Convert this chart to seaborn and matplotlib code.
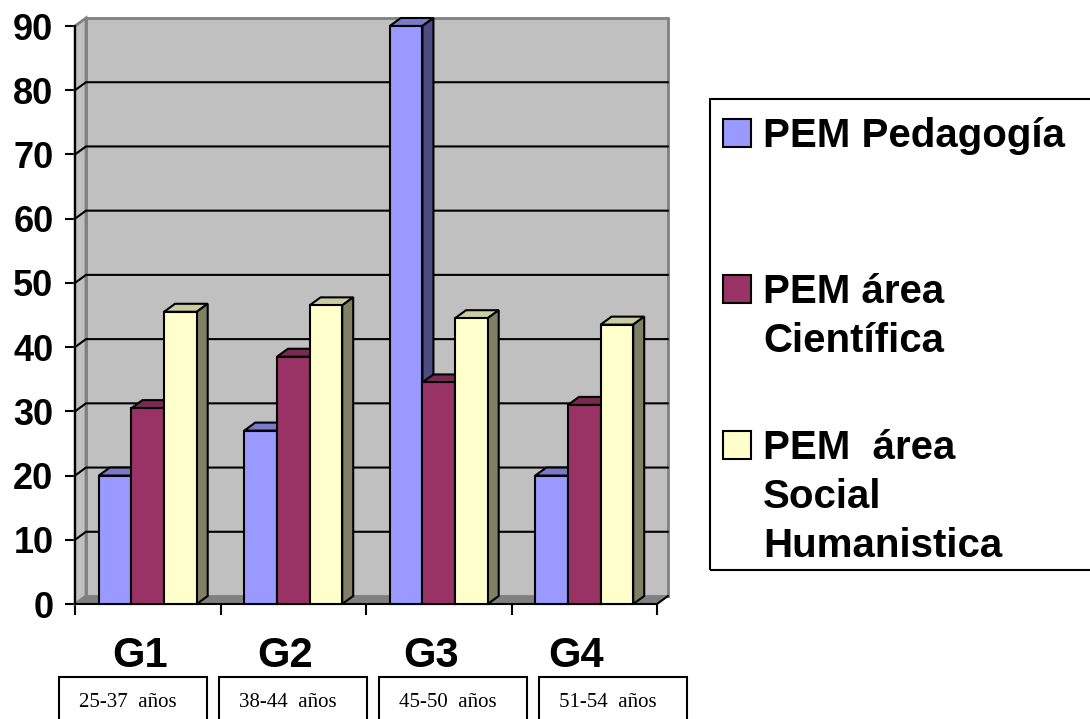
import matplotlib
matplotlib.use("Agg")
import matplotlib.pyplot as plt
import seaborn as sns
import pandas as pd
import numpy as np
from matplotlib.patches import Polygon, Rectangle
from matplotlib.lines import Line2D
from matplotlib.transforms import ScaledTranslation

# ---- data -------------------------------------------------------------
groups = ["G1", "G2", "G3", "G4"]
age_ranges = ["25-37  años", "38-44  años", "45-50  años", "51-54  años"]
series = ["PEM Pedagogía", "PEM área\nCientífica", "PEM  área\nSocial\nHumanistica"]
pedagogia = [20, 27, 90, 20]
cientifica = [30.5, 38.5, 34.5, 31]
social = [45.5, 46.5, 44.5, 43.5]
y_ticks = [0, 10, 20, 30, 40, 50, 60, 70, 80, 90]

# ---- styling ----------------------------------------------------------
front_colors = ["#9999FF", "#993366", "#FFFFCC"]
top_colors = ["#7A7ACC", "#7A2952", "#CCCCA3"]
side_colors = ["#4C4C80", "#4D1A33", "#808066"]
WALL = "#C0C0C0"
FLOOR = "#808080"
WALL_EDGE = "#808080"
LW = 1.5

sns.set_theme(style="white")
plt.rcParams["font.family"] = ["Liberation Sans", "DejaVu Sans"]
plt.rcParams["text.color"] = "black"
plt.rcParams["xtick.color"] = "black"
plt.rcParams["ytick.color"] = "black"
plt.rcParams["axes.labelcolor"] = "black"

W, H, DPI = 1090, 719, 100
fig = plt.figure(figsize=(W / DPI, H / DPI), dpi=DPI)
fig.patch.set_facecolor("white")

# front plane of the plotting box, in pixels from the top-left corner
L, R, B, T = 75, 657, 604, 26
ax = fig.add_axes([L / W, 1 - B / H, (R - L) / W, (B - T) / H])
ax.set_facecolor("none")

values = {series[0]: pedagogia, series[1]: cientifica, series[2]: social}
df = pd.DataFrame(
    [(g, s, values[s][i]) for s in series for i, g in enumerate(groups)],
    columns=["grupo", "serie", "valor"],
)

sns.barplot(
    data=df, x="grupo", y="valor", hue="serie",
    order=groups, hue_order=series,
    palette=dict(zip(series, front_colors)),
    width=0.673, saturation=1, edgecolor="black", linewidth=LW,
    legend=False, ax=ax,
)
bars = list(ax.patches)

xlo, xhi, ylo, yhi = -0.5, len(groups) - 0.5, 0, 90
ax.set_xlim(xlo, xhi)
ax.set_ylim(ylo, yhi)

# depth of the pseudo-3D box, converted from pixels to data units
DEPTH_X_PX, DEPTH_Y_PX = 11, 8
dx = DEPTH_X_PX / ((R - L) / (xhi - xlo))
dy = DEPTH_Y_PX / ((B - T) / (yhi - ylo))

# back wall, side wall and floor
ax.add_patch(Rectangle((xlo + dx, ylo + dy), xhi - xlo, yhi - ylo,
                       facecolor=WALL, edgecolor=WALL_EDGE, lw=2, zorder=0.5, clip_on=False))
ax.add_patch(Polygon([(xlo, ylo), (xlo + dx, ylo + dy), (xlo + dx, yhi + dy), (xlo, yhi)],
                     facecolor=WALL, edgecolor=WALL_EDGE, lw=2, zorder=0.55, clip_on=False))
ax.add_patch(Polygon([(xlo, ylo), (xhi, ylo), (xhi + dx, ylo + dy), (xlo + dx, ylo + dy)],
                     facecolor=FLOOR, edgecolor="none", zorder=0.6, clip_on=False))
ax.add_line(Line2D([xhi, xhi + dx], [ylo, ylo + dy], color="black", lw=LW,
                   zorder=0.7, clip_on=False))

# gridlines running over the side wall and the back wall
for v in y_ticks[1:-1]:
    ax.add_line(Line2D([xlo, xlo + dx, xhi + dx], [v, v + dy, v + dy],
                       color="black", lw=LW, zorder=0.7, clip_on=False))

# tops and right-hand sides of the bars
n = len(groups)
for i, p in enumerate(bars):
    k = i // n
    x0 = p.get_x()
    x1 = x0 + p.get_width()
    h = p.get_height()
    z = 3 + 0.1 * k
    p.set_zorder(z)
    p.set_clip_on(False)
    ax.add_patch(Polygon([(x0, h), (x1, h), (x1 + dx, h + dy), (x0 + dx, h + dy)],
                         facecolor=top_colors[k], edgecolor="black", lw=LW,
                         zorder=z - 0.05, clip_on=False))
    ax.add_patch(Polygon([(x1, 0), (x1 + dx, dy), (x1 + dx, h + dy), (x1, h)],
                         facecolor=side_colors[k], edgecolor="black", lw=LW,
                         zorder=z - 0.05, clip_on=False))

# axes
for s in ["top", "right"]:
    ax.spines[s].set_visible(False)
for s in ["left", "bottom"]:
    ax.spines[s].set_color("black")
    ax.spines[s].set_linewidth(LW)
    ax.spines[s].set_zorder(0.8)

ax.set_yticks(y_ticks)
ax.set_yticklabels([str(v) for v in y_ticks], fontsize=26, fontweight="bold")
ax.tick_params(axis="y", left=True, length=7.2, width=LW, pad=8.3, color="black",
               labelcolor="black")
ax.set_xticks(np.arange(xlo, xhi + 0.5, 1))
ax.set_xticklabels([])
ax.tick_params(axis="x", bottom=True, length=8, width=LW, color="black")
ax.set_xlabel("")
ax.set_ylabel("")

# category names below the axis
cat_off = ScaledTranslation(-8 / DPI, -63 / DPI, fig.dpi_scale_trans)
for i, g in enumerate(groups):
    ax.text(i, 0, g, transform=ax.transData + cat_off, ha="center", va="baseline",
            fontsize=30, fontweight="bold", color="black", clip_on=False)

# age-range boxes
for i, txt in enumerate(age_ranges):
    left = 59 + 160 * i
    fig.add_artist(Rectangle((left / W, (H - 677 - 60) / H), 148 / W, 60 / H,
                             transform=fig.transFigure, fill=False,
                             edgecolor="black", lw=LW, clip_on=False))
    fig.text((left + 20) / W, (H - 707) / H, txt, fontsize=15, color="black",
             family=["Liberation Serif", "DejaVu Serif"], ha="left", va="baseline")

# legend
fig.add_artist(Rectangle((710 / W, (H - 570) / H), 400 / W, 471 / H,
                         transform=fig.transFigure, fill=False,
                         edgecolor="black", lw=LW, clip_on=False))
for k, name in enumerate(series):
    base = 147 + 156 * k
    fig.add_artist(Rectangle((723 / W, (H - base) / H), 28 / W, 28 / H,
                             transform=fig.transFigure, facecolor=front_colors[k],
                             edgecolor="black", lw=LW))
    for j, line in enumerate(name.split("\n")):
        fig.text(763 / W, (H - base - 49 * j) / H, line, fontsize=29,
                 fontweight="bold", color="black", ha="left", va="baseline")

fig.savefig("out.png", dpi=DPI)
